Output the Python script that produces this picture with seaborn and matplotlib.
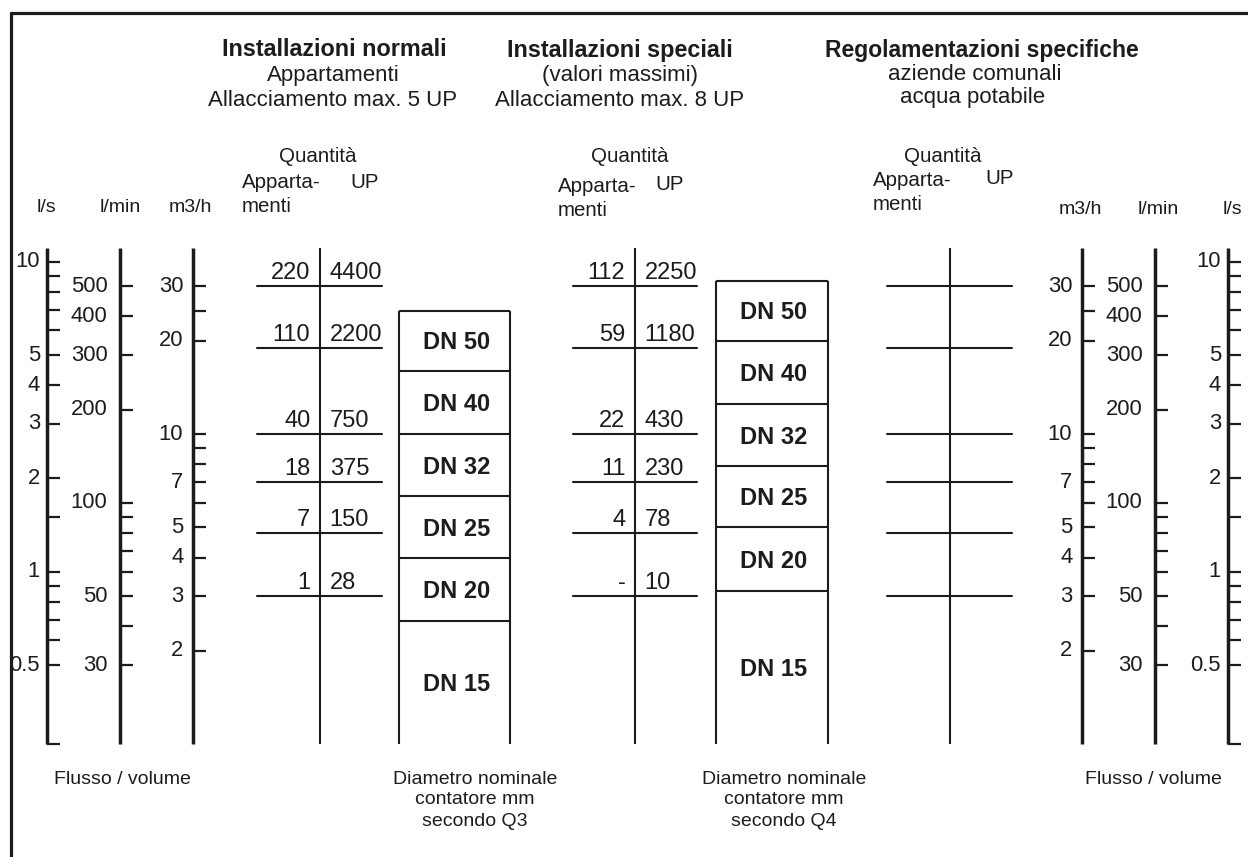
import pandas as pd
import seaborn as sns
import matplotlib.pyplot as plt

# --- flow scales (tick values in their own unit) ---
LS_TICKS = [10, 9, 8, 7, 6, 5, 4, 3, 2, 1.5, 1, 0.9, 0.8, 0.7, 0.6, 0.5]
LS_LABELS = [10, 5, 4, 3, 2, 1, 0.5]
LMIN_TICKS = [500, 400, 300, 200, 100, 90, 80, 70, 60, 50, 40, 30]
LMIN_LABELS = [500, 400, 300, 200, 100, 50, 30]
M3H_TICKS = [30, 25, 20, 10, 9, 8, 7, 6, 5, 4, 3, 2]
M3H_LABELS = [30, 20, 10, 7, 5, 4, 3, 2]
SCALE_TOP = 40      # m3/h
SCALE_BOTTOM = 1    # m3/h

# --- quantity rows (flow in m3/h) ---
ROW_FLOW = [30, 19, 10, 7, 4.8, 3]
NORMAL_APP = ["220", "110", "40", "18", "7", "1"]
NORMAL_UP = ["4400", "2200", "750", "375", "150", "28"]
SPECIAL_APP = ["112", "59", "22", "11", "4", "-"]
SPECIAL_UP = ["2250", "1180", "430", "230", "78", "10"]

# --- meter sizes, upper limit of each band in m3/h ---
DN_NAMES = ["DN 50", "DN 40", "DN 32", "DN 25", "DN 20", "DN 15"]
Q3 = [25, 16, 10, 6.3, 4, 2.5]
Q4 = [31.25, 20, 12.5, 7.9, 5, 3.125]

LS_TO_M3H = 3.6
LMIN_TO_M3H = 0.06

W, H = 1248, 857
PX_DECADE = 310
Y10 = 261.7          # pixel row of 10 l/s
INK = "#1c1c1c"
TICK = 13


def flow_at(ypx):
    return 10 * LS_TO_M3H * 10 ** ((Y10 - ypx) / PX_DECADE)


sns.set_theme(style="white")
plt.rcParams["font.family"] = ["Liberation Sans", "DejaVu Sans"]

fig = plt.figure(figsize=(W / 100, H / 100), dpi=100)
ax = fig.add_axes([0, 0, 1, 1])
ax.set_yscale("log")


def scale(x, ticks, labels, factor, gap, end_tick=False):
    ax.vlines(x, SCALE_BOTTOM, SCALE_TOP, color=INK, lw=2.5)
    ax.hlines([t * factor for t in ticks], x, x + TICK, color=INK, lw=1.6)
    if end_tick:
        ax.hlines(SCALE_BOTTOM, x, x + TICK, color=INK, lw=1.6)
    for v in labels:
        ax.annotate(f"{v:g}", (x, v * factor), xytext=(-gap, 0),
                    textcoords="offset points", ha="right", va="center",
                    fontsize=15.8, color=INK)


# left scales
scale(47, LS_TICKS, LS_LABELS, LS_TO_M3H, 5, end_tick=True)
scale(120, LMIN_TICKS, LMIN_LABELS, LMIN_TO_M3H, 9)
scale(193, M3H_TICKS, M3H_LABELS, 1, 7)
# right scales
scale(1082, M3H_TICKS, M3H_LABELS, 1, 7)
scale(1155, LMIN_TICKS, LMIN_LABELS, LMIN_TO_M3H, 9)
scale(1228, LS_TICKS, LS_LABELS, LS_TO_M3H, 5, end_tick=True)

# quantity columns
columns = [(320, 257, 382, NORMAL_APP, NORMAL_UP),
           (635, 573, 697, SPECIAL_APP, SPECIAL_UP),
           (950, 887, 1012, None, None)]
recs = []
for c, (xv, x0, x1, app, up) in enumerate(columns):
    for i, f in enumerate(ROW_FLOW):
        recs.append({"line": f"{c}-{i}", "x": x0, "flow": f})
        recs.append({"line": f"{c}-{i}", "x": x1, "flow": f})
rows = pd.DataFrame(recs)
sns.lineplot(data=rows, x="x", y="flow", units="line", estimator=None,
             color=INK, linewidth=1.5, legend=False, ax=ax)

for xv, x0, x1, app, up in columns:
    ax.vlines(xv, SCALE_BOTTOM, SCALE_TOP, color=INK, lw=1.5)
    if app is None:
        continue
    for f, a, u in zip(ROW_FLOW, app, up):
        ax.annotate(a, (xv, f), xytext=(-7, 5), textcoords="offset points",
                    ha="right", va="baseline", fontsize=17, color=INK)
        ax.annotate(u, (xv, f), xytext=(7, 5), textcoords="offset points",
                    ha="left", va="baseline", fontsize=17, color=INK)


def dn_column(x0, x1, bounds):
    ax.vlines([x0, x1], SCALE_BOTTOM, bounds[0], color=INK, lw=1.5)
    ax.hlines(bounds, x0, x1, color=INK, lw=1.5)
    lows = bounds[1:] + [SCALE_BOTTOM]
    for name, hi, lo in zip(DN_NAMES, bounds, lows):
        ax.annotate(name, ((x0 + x1) / 2 + 2, (hi * lo) ** 0.5), xytext=(0, -1.5),
                    textcoords="offset points", ha="center", va="center",
                    fontsize=17, fontweight="bold", color=INK)


dn_column(399, 510, Q3)
dn_column(716, 828, Q4)

ax.set_xlim(0, W)
ax.set_ylim(flow_at(H), flow_at(0))
ax.axis("off")


def put(x, y, s, ha="center", bold=False, size=16):
    fig.text(x / W, 1 - y / H, s, ha=ha, va="center", fontsize=size, color=INK,
             fontweight="bold" if bold else "normal")


put(334, 50, "Installazioni normali", bold=True, size=16.8)
put(333, 75, "Appartamenti")
put(333, 100, "Allacciamento max. 5 UP")
put(620, 50, "Installazioni speciali", bold=True, size=16.8)
put(620, 75, "(valori massimi)")
put(620, 100, "Allacciamento max. 8 UP")
put(982, 50, "Regolamentazioni specifiche", bold=True, size=16.5)
put(975, 74, "aziende comunali")
put(973, 98, "acqua potabile")

SUB = 14.8
put(318, 157, "Quantità", size=SUB)
put(242, 182, "Apparta-", ha="left", size=SUB)
put(350, 182, "UP", ha="left", size=SUB)
put(242, 207, "menti", ha="left", size=SUB)
put(630, 157, "Quantità", size=SUB)
put(558, 186, "Apparta-", ha="left", size=SUB)
put(655, 184, "UP", ha="left", size=SUB)
put(558, 210, "menti", ha="left", size=SUB)
put(943, 157, "Quantità", size=SUB)
put(873, 181, "Apparta-", ha="left", size=SUB)
put(985, 179, "UP", ha="left", size=SUB)
put(873, 205, "menti", ha="left", size=SUB)

UNIT = 14
put(46, 207, "l/s", size=UNIT)
put(120, 207, "l/min", size=UNIT)
put(190, 207, "m3/h", size=UNIT)
put(1080, 209, "m3/h", size=UNIT)
put(1158, 209, "l/min", size=UNIT)
put(1232, 209, "l/s", size=UNIT)

FOOT = 14
put(122, 780, "Flusso / volume", size=FOOT)
put(1153, 780, "Flusso / volume", size=FOOT)
for xc, q in [(475, "Q3"), (784, "Q4")]:
    put(xc, 779, "Diametro nominale", size=FOOT)
    put(xc, 800, "contatore mm", size=FOOT)
    put(xc, 822, "secondo " + q, size=FOOT)

# frame on the left and top edge
fig.add_artist(plt.Line2D([11 / W, 11 / W], [0, 1 - 12.7 / H], color=INK, lw=2.3))
fig.add_artist(plt.Line2D([11 / W, 1], [1 - 12.7 / H, 1 - 12.7 / H], color=INK, lw=2.3))

fig.savefig("out.png", dpi=100)
